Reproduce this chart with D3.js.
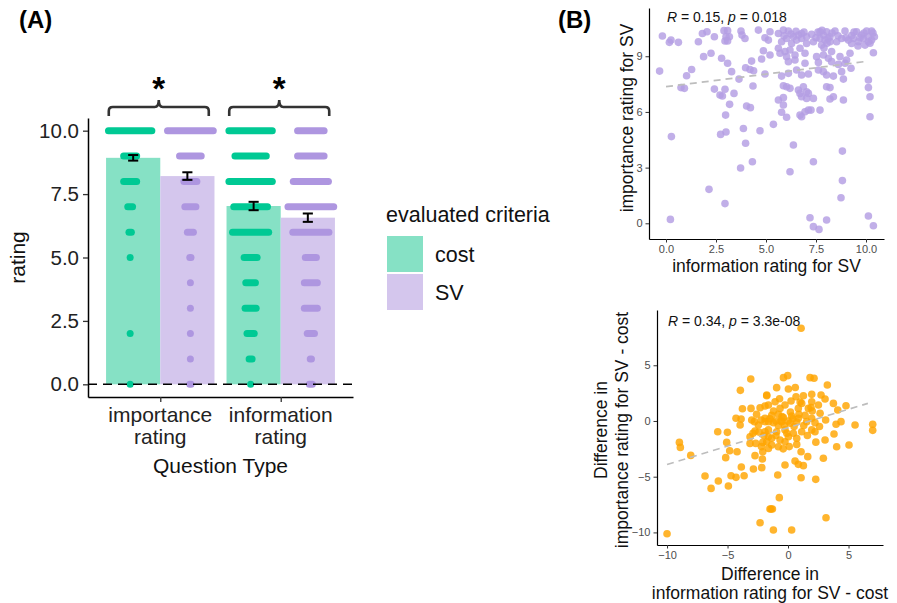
<!DOCTYPE html>
<html>
<head>
<meta charset="utf-8">
<script src="https://cdn.jsdelivr.net/npm/d3@7"></script>
<style>
  body { margin: 0; background: #fff; }
  svg { display: block; font-family: "Liberation Sans", Arial, sans-serif; }
</style>
</head>
<body>
<svg id="chart" width="897" height="603"></svg>
<script>
// ---------- Panel A data ----------
const questionTypes = [["importance", "rating"], ["information", "rating"]];
const criteria = ["cost", "SV"];
const meanCost = [8.93, 7.03];
const meanSV = [8.21, 6.57];
const seCost = [0.11, 0.165];
const seSV = [0.15, 0.165];
const ratingLevels = [0, 1, 2, 3, 4, 5, 6, 7, 8, 9, 10];
// horizontal spread of the raw (jittered) ratings at each level, null = no response
const spreadImpCost = [0, null, 0, null, null, 0, 0.01, 0.02, 0.054, 0.054, 0.18];
const spreadImpSV = [0.005, 0, 0, 0, 0, 0.005, 0.025, 0.046, 0.054, 0.09, 0.19];
const spreadInfoCost = [0, 0.0125, 0.03, 0.046, 0.04, 0.054, 0.15, 0.14, 0.18, 0.13, 0.18];
const spreadInfoSV = [0.0125, 0.005, 0.03, 0.054, 0.054, 0.046, 0.15, 0.19, 0.146, 0.11, 0.11];
const yTicksA = [0, 2.5, 5, 7.5, 10];

// ---------- Panel B data ----------
// [information rating for SV, importance rating for SV]
const svRatings = [
  [-0.18,10.09],[0.25,9.87],[0.17,9.75],[0.62,9.75],[-0.32,8.2],[1.62,9.78],[1.82,10.23],[2.05,10.32],
  [2.42,10.05],[1.88,8.98],[2.25,9.16],[1.28,8.29],[1.03,7.95],[0.75,7.31],[0.92,7.27],[2.9,10.38],
  [3.08,10.38],[3.0,10.05],[3.17,10.05],[2.95,9.82],[3.08,9.82],[2.78,8.89],[3.08,8.62],[3.28,8.17],
  [3.75,10.36],[3.8,10.14],[3.95,9.96],[4.62,10.41],[4.87,9.3],[4.95,10.0],[4.78,8.85],[4.28,8.74],
  [3.98,8.38],[4.2,8.29],[4.38,8.22],[3.65,7.77],[4.35,7.4],[2.42,7.23],[2.95,7.22],[2.7,6.91],
  [2.82,6.86],[3.4,7.0],[3.18,6.41],[4.03,6.32],[4.22,6.23],[2.98,5.83],[0.27,4.67],[2.73,4.79],
  [3.0,4.92],[3.87,5.11],[4.7,4.99],[3.98,4.31],[4.32,3.32],[3.73,2.98],[2.15,1.83],[2.95,1.06],
  [0.22,0.21],
  [5.2,10.32],[5.62,10.23],[5.87,10.41],[6.12,10.36],[6.37,10.05],[6.62,10.14],[6.78,10.23],[7.03,10.05],
  [7.28,10.18],[7.7,10.32],[7.87,10.14],[8.03,10.32],[8.2,10.05],[8.45,10.36],[8.95,10.36],[9.28,10.11],
  [9.53,10.32],[9.78,10.14],[10.03,10.36],[10.28,10.36],[10.42,10.05],
  [5.12,9.87],[5.78,9.78],[6.03,9.96],[6.28,9.69],[6.53,9.87],[6.78,9.96],[7.03,9.69],[7.37,9.78],
  [7.7,9.96],[7.95,9.87],[8.2,9.78],[8.53,9.78],[8.78,9.96],[9.12,9.87],[9.37,9.96],[9.62,9.78],
  [9.87,9.96],[10.12,9.78],[10.28,9.87],[7.78,9.6],[9.95,9.6],[9.28,9.69],
  [6.9,10.3],[7.5,10.0],[7.8,10.4],[8.1,9.95],[8.3,10.25],[8.6,10.1],[9.0,10.0],[9.4,10.3],
  [9.7,10.0],[9.9,10.25],[10.1,10.05],[10.2,9.7],[10.35,10.25],[9.6,9.55],[7.9,9.45],[8.05,9.7],
  [7.6,10.3],[6.5,10.35],[5.9,10.1],[6.25,10.2],
  [5.2,9.07],[5.62,9.43],[5.95,9.25],[6.2,9.34],[6.45,9.07],[6.7,9.43],[6.95,9.16],[7.53,8.98],
  [7.87,9.07],[8.12,8.89],[8.28,9.25],[8.7,8.98],[9.03,8.8],[9.2,9.16],[10.37,9.19],[6.03,8.98],
  [5.7,9.16],
  [6.12,8.71],[6.45,8.8],[6.95,8.62],[7.62,8.67],[8.28,8.71],[8.62,8.56],[8.95,8.62],[9.25,8.35],
  [4.95,8.04],[5.78,7.93],[6.12,8.08],[6.53,8.26],[6.78,7.99],[7.12,8.04],[7.62,8.26],[7.87,8.17],
  [8.03,7.99],[8.37,7.93],[8.78,8.17],[8.87,7.77],[10.12,7.72],
  [5.87,7.41],[6.03,7.36],[6.2,7.27],[6.62,7.18],[6.87,7.36],[7.03,7.09],[6.7,7.0],[7.12,7.0],
  [8.03,7.36],[8.2,7.31],[10.12,7.31],
  [5.62,6.64],[5.87,6.77],[6.78,6.82],[7.03,6.73],[7.37,6.73],[8.2,6.7],[8.37,6.82],[8.87,6.64],
  [10.2,6.82],[5.87,6.37],
  [5.78,5.98],[6.03,5.71],[6.78,5.74],[6.95,6.01],[7.12,6.1],[7.25,6.1],[7.7,6.1],[6.7,5.83],
  [10.2,5.74],[5.37,5.33],
  [6.37,4.22],[8.82,3.89],[7.37,3.32],[6.2,2.78],[8.82,2.3],[8.75,1.38],[7.2,0.3],[8.03,0.18],
  [7.37,-0.18],[7.65,-0.33],[10.12,0.39],[10.37,-0.13]
];
// [difference in information rating, difference in importance rating] (SV - cost)
const diffRatings = [
  [-3.08,3.77],[-3.94,2.75],[-10.0,-10.12],[-8.98,-1.92],[-8.9,-2.37],[-8.04,-3.09],[-5.81,-0.96],
  [-5.01,-1.02],[-5.07,-1.92],[-4.82,-2.67],[-4.21,-2.76],[-5.15,-3.29],[-3.77,1.1],[-4.3,0.24],
  [-3.88,0.18],[-3.96,-0.36],[-6.86,-4.94],[-5.76,-5.39],[-6.36,-6.05],[-4.93,-5.84],[-4.71,-4.91],
  [-4.3,-5.06],[-3.63,-4.91],[-3.86,-4.13],[-3.06,1.13],[-3.0,0.09],[-2.31,1.19],[-1.9,1.34],
  [-3.14,-1.41],[-3.14,-2.01],[-2.67,-2.01],[-2.73,-3.11],[-2.86,-4.31],[-2.17,-4.19],[-2.31,-9.13],
  [-1.49,-7.9],[-2.78,-0.06],[-2.45,-0.36],[-2.73,-0.9],[-2.09,-1.92],[-2.09,-2.76],[-2.12,-3.41],
  [-1.76,2.33],[-1.9,0.24],[-1.62,-0.06],[-2.23,0.09],[-1.9,-0.96],[-1.62,-1.41],[-1.76,-1.86],
  [-1.62,-2.46],
  [1.08,8.32],[-0.38,3.89],[-0.03,4.07],[1.82,3.89],[2.15,3.83],[3.25,3.23],[-0.94,2.99],[0.03,2.87],
  [-1.76,2.27],[0.66,2.18],[1.27,2.27],[1.96,2.39],[2.73,2.33],[-1.07,1.73],[0.25,1.79],[1.13,1.58],
  [1.96,1.73],[3.06,1.97],[3.75,1.58],[4.79,1.37],[4.11,0.98],[-1.62,1.43],[-0.66,1.13],[-0.25,1.43],
  [0.85,1.13],[1.68,1.13],[2.51,1.43],[2.65,0.69],[-1.35,0.5],[-0.8,0.6],[-0.38,0.3],[0.3,0.45],
  [0.85,0.24],[1.41,0.5],[1.96,0.24],[3.11,0.09],[-1.9,-0.06],[-1.21,-0.15],[-0.52,-0.06],[0.17,-0.21],
  [0.72,-0.1],[1.54,-0.06],[2.23,-0.15],[3.97,-0.3],[4.38,-0.06],[5.54,-0.36],[7.0,-0.3],[7.0,-0.84],
  [-1.62,-0.8],[-0.94,-0.96],[-0.25,-0.8],[0.44,-1.1],[1.13,-0.96],[1.96,-0.8],[2.23,-0.96],[3.8,-1.17],
  [-1.35,-1.56],[-0.66,-1.71],[0.03,-1.41],[0.72,-1.56],[4.02,-2.31],[5.04,-2.16],[3.06,-1.71],
  [-1.35,-2.16],[-0.8,-2.31],[-0.25,-1.86],[0.72,-2.1],[1.08,-2.76],[1.63,-3.2],[0.58,-3.59],
  [0.85,-3.89],[1.27,-4.01],[2.92,-3.35],[-0.25,-3.95],[-0.85,-4.85],[1.08,-5.09],[2.29,-5.24],
  [-0.72,-6.88],[-1.4,-7.9],[-1.29,-7.9],[3.14,-8.68],[-1.21,-9.79],[0.3,-9.79],
  [-1.0,0.0],[-0.5,0.4],[0.0,0.0],[0.5,-0.5],[-0.3,-0.4],[0.2,0.8],[-1.2,0.9],[-0.8,-0.4],
  [0.9,0.6],[1.3,-0.4],[-1.5,0.2],[-0.1,-1.1],[0.4,0.2],[-0.6,0.0],[1.0,1.7],[-2.0,-1.3],
  [-2.4,-1.0],[-2.2,-2.3],[-1.0,-1.3],[0.1,-2.3],[-0.4,-2.5],[1.6,-1.3],[2.6,-0.5],[2.0,0.9],
  [-0.7,2.0],[0.6,3.0],[-2.6,0.6],[-2.9,-1.1],[1.9,1.2],[2.3,-1.9]
];
// linear fits
const fitSV = { intercept: 7.36, slope: 0.136, from: 0, to: 10.1 };
const fitDiff = { intercept: -0.6, slope: 0.331, from: -10, to: 6.6 };
const corrSV = { R: "0.15", p: "0.018" };
const corrDiff = { R: "0.34", p: "3.3e-08" };

const COL = {
  costDot: "#00C994", costBar: "#86E1C5",
  svDot: "#AE96E0", svBar: "#D4C6ED",
  scatterSV: "#B39DE3", scatterDiff: "#FFA500"
};

const svg = d3.select("#chart");

// ===================== Panel A =====================
const xA = d3.scaleLinear().domain([0.4, 2.6]).range([88, 353]);
const yA = d3.scaleLinear().domain([-0.5, 10.5]).range([397, 118]);
const barW = 0.45, dotOff = 0.25, dotR = 3.5;

const gA = svg.append("g");

svg.append("text").attr("x", 19).attr("y", 28)
  .attr("font-size", 24).attr("font-weight", 700).text("(A)");

// bars
const barData = [];
questionTypes.forEach((q, i) => {
  barData.push({ pos: i + 1, c: 0, mean: meanCost[i], se: seCost[i] });
  barData.push({ pos: i + 1, c: 1, mean: meanSV[i], se: seSV[i] });
});
gA.selectAll("rect.bar").data(barData).join("rect")
  .attr("class", "bar")
  .attr("x", d => xA(d.c === 0 ? d.pos - barW : d.pos))
  .attr("width", xA(barW) - xA(0))
  .attr("y", d => yA(d.mean))
  .attr("height", d => yA(0) - yA(d.mean))
  .attr("fill", d => d.c === 0 ? COL.costBar : COL.svBar);

// raw ratings (jittered dots, drawn as horizontal runs)
const spreadSets = [
  { pos: 1, c: 0, s: spreadImpCost }, { pos: 1, c: 1, s: spreadImpSV },
  { pos: 2, c: 0, s: spreadInfoCost }, { pos: 2, c: 1, s: spreadInfoSV }
];
const runs = [];
spreadSets.forEach(set => {
  ratingLevels.forEach((lv, i) => {
    if (set.s[i] == null) return;
    const cx = set.pos + (set.c === 0 ? -dotOff : dotOff);
    runs.push({ x0: cx - set.s[i], x1: cx + set.s[i], y: lv, c: set.c });
  });
});
gA.selectAll("rect.run").data(runs).join("rect")
  .attr("class", "run")
  .attr("x", d => xA(d.x0) - dotR)
  .attr("width", d => xA(d.x1) - xA(d.x0) + 2 * dotR)
  .attr("y", d => yA(d.y) - dotR)
  .attr("height", 2 * dotR)
  .attr("rx", dotR)
  .attr("fill", d => d.c === 0 ? COL.costDot : COL.svDot);

// error bars
const ebG = gA.selectAll("g.eb").data(barData).join("g").attr("class", "eb")
  .attr("stroke", "#000").attr("stroke-width", 2);
const ebX = d => xA(d.c === 0 ? d.pos - barW / 2 : d.pos + barW / 2);
const capHalf = 0.042;
ebG.append("line")
  .attr("x1", ebX).attr("x2", ebX)
  .attr("y1", d => yA(d.mean - d.se)).attr("y2", d => yA(d.mean + d.se));
[-1, 1].forEach(sg => {
  ebG.append("line")
    .attr("x1", d => ebX(d) - (xA(capHalf) - xA(0)))
    .attr("x2", d => ebX(d) + (xA(capHalf) - xA(0)))
    .attr("y1", d => yA(d.mean + sg * d.se))
    .attr("y2", d => yA(d.mean + sg * d.se));
});

// zero reference line
gA.append("line")
  .attr("x1", xA(0.4)).attr("x2", xA(2.6))
  .attr("y1", yA(0)).attr("y2", yA(0))
  .attr("stroke", "#000").attr("stroke-width", 1.6)
  .attr("stroke-dasharray", "9,6");

// axes A
const yAxisA = d3.axisLeft(yA).tickValues(yTicksA).tickFormat(d3.format(".1f"))
  .tickSize(5).tickSizeOuter(0).tickPadding(4);
const gyA = gA.append("g").attr("transform", `translate(${xA(0.4)},0)`).call(yAxisA);
gyA.select(".domain").attr("stroke", "#000").attr("stroke-width", 1.5);
gyA.selectAll(".tick line").attr("stroke", "#333").attr("stroke-width", 1.3);
gyA.selectAll(".tick text").attr("font-size", 20.5).attr("fill", "#222")
  .attr("font-family", "Liberation Sans, Arial, sans-serif");

const xAxisA = d3.axisBottom(xA).tickValues([1, 2]).tickFormat("").tickSize(5).tickSizeOuter(0);
const gxA = gA.append("g").attr("transform", `translate(0,${yA(-0.5)})`).call(xAxisA);
gxA.select(".domain").attr("stroke", "#000").attr("stroke-width", 1.5);
gxA.selectAll(".tick line").attr("stroke", "#333").attr("stroke-width", 1.3);

questionTypes.forEach((lines, i) => {
  const t = gA.append("text").attr("text-anchor", "middle")
    .attr("font-size", 21).attr("fill", "#222");
  lines.forEach((ln, j) => {
    t.append("tspan").attr("x", xA(i + 1)).attr("y", 422 + j * 21.5).text(ln);
  });
});
gA.append("text").attr("x", xA(1.5)).attr("y", 473).attr("text-anchor", "middle")
  .attr("font-size", 21).attr("fill", "#111").text("Question Type");
gA.append("text").attr("transform", `translate(25,${(yA(-0.5) + yA(10.5)) / 2}) rotate(-90)`)
  .attr("text-anchor", "middle").attr("font-size", 21).attr("fill", "#111").text("rating");

// significance brackets
const brTop = 107, brLeg = 116, brPeak = 100, cr = 4;
questionTypes.forEach((q, i) => {
  const mid = xA(i + 1) - 1.5, l = mid - 50, r = mid + 50;
  const p = `M${l},${brLeg} L${l},${brTop + cr} Q${l},${brTop} ${l + cr},${brTop}` +
    ` L${mid - cr},${brTop} Q${mid},${brTop} ${mid},${brPeak}` +
    ` Q${mid},${brTop} ${mid + cr},${brTop} L${r - cr},${brTop}` +
    ` Q${r},${brTop} ${r},${brTop + cr} L${r},${brLeg}`;
  gA.append("path").attr("d", p).attr("fill", "none")
    .attr("stroke", "#333").attr("stroke-width", 2.6);
  gA.append("text").attr("x", mid).attr("y", 100).attr("text-anchor", "middle")
    .attr("font-size", 33).attr("font-weight", 700).text("*");
});

// legend
const lg = svg.append("g");
lg.append("text").attr("x", 386).attr("y", 222).attr("font-size", 21.5).attr("fill", "#111")
  .text("evaluated criteria");
criteria.forEach((c, i) => {
  const y0 = 236 + i * 38;
  lg.append("rect").attr("x", 387).attr("y", y0).attr("width", 36).attr("height", 36)
    .attr("fill", i === 0 ? COL.costBar : COL.svBar);
  lg.append("text").attr("x", 435).attr("y", y0 + 26).attr("font-size", 21.5).attr("fill", "#111")
    .text(c);
});

// ===================== Panel B =====================
svg.append("text").attr("x", 558).attr("y", 28)
  .attr("font-size", 24).attr("font-weight", 700).text("(B)");

function scatter(cfg) {
  const { xs, ys, pts, color, fit, corr, xTicks, yTicks, xFmt } = cfg;
  const g = svg.append("g");
  const [x0, x1] = xs.range(), [y0, y1] = ys.range();

  g.selectAll("circle").data(pts).join("circle")
    .attr("cx", d => xs(d[0])).attr("cy", d => ys(d[1]))
    .attr("r", 3.8).attr("fill", color).attr("fill-opacity", 0.82);

  g.append("line")
    .attr("x1", xs(fit.from)).attr("y1", ys(fit.intercept + fit.slope * fit.from))
    .attr("x2", xs(fit.to)).attr("y2", ys(fit.intercept + fit.slope * fit.to))
    .attr("stroke", "#BDBDBD").attr("stroke-width", 1.7).attr("stroke-dasharray", "7,5");

  const gx = g.append("g").attr("transform", `translate(0,${y0})`)
    .call(d3.axisBottom(xs).tickValues(xTicks).tickFormat(xFmt).tickSize(3.5).tickSizeOuter(0).tickPadding(3));
  const gy = g.append("g").attr("transform", `translate(${x0},0)`)
    .call(d3.axisLeft(ys).tickValues(yTicks).tickFormat(d3.format("d")).tickSize(3.5).tickSizeOuter(0).tickPadding(3));
  [gx, gy].forEach(a => {
    a.select(".domain").attr("stroke", "#000").attr("stroke-width", 1.2);
    a.selectAll(".tick line").attr("stroke", "#333");
    a.selectAll(".tick text").attr("font-size", 11).attr("fill", "#4D4D4D")
      .attr("font-family", "Liberation Sans, Arial, sans-serif");
  });

  const rt = g.append("text").attr("x", cfg.corrX).attr("y", cfg.corrY)
    .attr("font-size", 14).attr("fill", "#111");
  rt.append("tspan").attr("font-style", "italic").text("R");
  rt.append("tspan").text(` = ${corr.R}, `);
  rt.append("tspan").attr("font-style", "italic").text("p");
  rt.append("tspan").text(` = ${corr.p}`);

  const xt = g.append("text").attr("text-anchor", "middle").attr("font-size", 17.5).attr("fill", "#111");
  cfg.xTitle.forEach((ln, j) => {
    xt.append("tspan").attr("x", (x0 + x1) / 2).attr("y", cfg.xTitleY + j * 19).text(ln);
  });
  const yt = g.append("text").attr("text-anchor", "middle").attr("font-size", 17.5).attr("fill", "#111")
    .attr("transform", `translate(${cfg.yTitleX},${cfg.yTitleMid}) rotate(-90)`);
  cfg.yTitle.forEach((ln, j) => {
    yt.append("tspan").attr("x", 0).attr("y", j * 20.5).text(ln);
  });
}

scatter({
  xs: d3.scaleLinear().domain([-0.85, 10.9]).range([649, 884]),
  ys: d3.scaleLinear().domain([-0.846, 11.6]).range([239, 8]),
  pts: svRatings, color: COL.scatterSV, fit: fitSV, corr: corrSV,
  xTicks: [0, 2.5, 5, 7.5, 10], yTicks: [0, 3, 6, 9], xFmt: d3.format(".1f"),
  corrX: 667, corrY: 22,
  xTitle: ["information rating for SV"], xTitleY: 272,
  yTitle: ["importance rating for SV"], yTitleX: 633, yTitleMid: 118
});

scatter({
  xs: d3.scaleLinear().domain([-10.83, 7.85]).range([657, 883]),
  ys: d3.scaleLinear().domain([-11.13, 9.96]).range([545, 310]),
  pts: diffRatings, color: COL.scatterDiff, fit: fitDiff, corr: corrDiff,
  xTicks: [-10, -5, 0, 5], yTicks: [-10, -5, 0, 5], xFmt: d3.format("d"),
  corrX: 668, corrY: 326,
  xTitle: ["Difference in", "information rating for SV - cost"], xTitleY: 580,
  yTitle: ["Difference in", "importance rating for SV - cost"], yTitleX: 607, yTitleMid: 430
});
</script>
</body>
</html>
